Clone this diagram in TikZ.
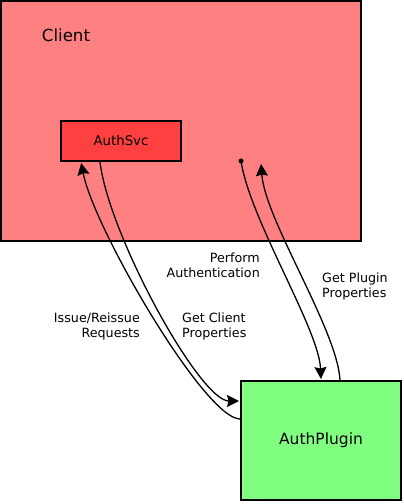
\documentclass[tikz,border=0pt]{standalone}
\usepackage{fontspec}
\setmainfont{DejaVu Sans}
\usepackage{tikz}
\usetikzlibrary{positioning,arrows.meta,calc}
\definecolor{cFill}{RGB}{255,128,128}
\definecolor{sFill}{RGB}{255,64,64}
\definecolor{pFill}{RGB}{128,255,128}
\tikzset{
  box/.style={rectangle, draw=black, line width=2pt, inner sep=0pt, align=center},
  clientbox/.style={box, fill=cFill, minimum width=360pt, minimum height=240pt},
  svc/.style={box, fill=sFill, minimum width=120pt, minimum height=40pt,
              font=\fontsize{13.3}{16}\selectfont},
  plug/.style={box, fill=pFill, minimum width=160pt, minimum height=119pt,
               font=\fontsize{15.5}{18}\selectfont},
  lbl/.style={font=\fontsize{12.7}{15}\selectfont, inner sep=0pt},
  flow/.style={-{Stealth[length=12pt,width=12pt,inset=1.5pt]}, line width=1.3pt,
               shorten >=1pt},
  dotmark/.style={circle, fill=black, inner sep=0pt, minimum size=5pt},
}

\begin{document}
\begin{tikzpicture}[x=1pt,y=1pt]
  \useasboundingbox (0,0) rectangle (404,504);

  % ---- client container ----
  \node[clientbox] (cl) at (181,383) {};
  \node[font=\fontsize{16.6}{20}\selectfont, anchor=base] (cllbl) at (66,462) {Client};

  % ---- auth service inside the client ----
  \node[svc] (as) at (121,363) {AuthSvc};

  % ---- plugin (bottom right) ----
  \node[plug] (ap) at (321,63.5) {AuthPlugin};

  % ---- start / end points inside the client ----
  \node[dotmark] (pa) at (241,343) {};
  \coordinate (gp) at (261,341);

  % ===== calls between service and plugin =====
  \draw[flow] ([yshift=-39pt]ap.north west) .. controls +(-35,0) and +(13,-67) ..
        ([xshift=21pt]as.south west);
  \draw[flow] ([xshift=40pt]as.south west) .. controls +(9,-74) and +(-40,0) ..
        ([yshift=-21pt]ap.north west);

  % ===== calls between client and plugin =====
  \draw[flow] (pa.center) .. controls +(9,-59) and +(-2,51) ..
        ([xshift=81pt]ap.north west);
  \draw[flow] ([xshift=100pt]ap.north west) .. controls +(-3,51) and +(4,-57) .. (gp);

  % ---- labels ----
  \node[lbl, align=right, anchor=north east] (perf) at (260,251.6) {Perform\\Authentication};
  \node[lbl, align=left, anchor=north west] (gpp) at (322,231.6) {Get Plugin\\Properties};
  \node[lbl, align=right, anchor=north east] (iss) at (140,191.6) {Issue/Reissue\\Requests};
  \node[lbl, align=left, anchor=north west] (gcp) at (182,191.6) {Get Client\\Properties};

\end{tikzpicture}
\end{document}
